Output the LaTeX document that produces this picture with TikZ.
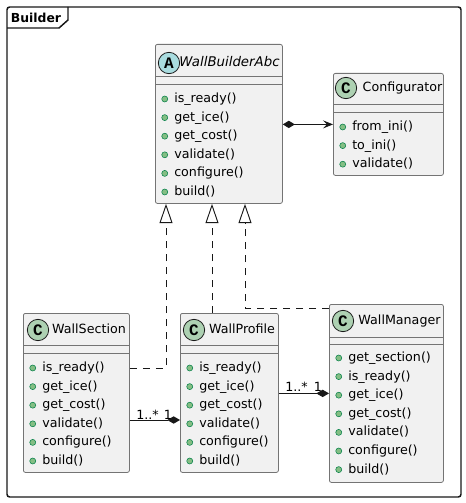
\documentclass[tikz,border=0pt]{standalone}
\usepackage{fontspec}
\setmainfont{DejaVu Sans}
\newfontfamily\iconfont{Liberation Mono}
\usetikzlibrary{arrows.meta}

\definecolor{boxfill}{HTML}{F1F1F1}
\definecolor{boxline}{HTML}{181818}
\definecolor{classicon}{HTML}{ADD1B2}
\definecolor{abstracticon}{HTML}{A9DCDF}
\definecolor{dotfill}{HTML}{84BE84}
\definecolor{dotline}{HTML}{038048}

\begin{document}
\begin{tikzpicture}[x=0.75pt,y=0.75pt,yscale=-1,xscale=1,
  font=\fontsize{9.5}{11}\selectfont,
  frame/.style={draw=boxline, line width=1.1pt},
  classbox/.style={draw=boxline!60, fill=boxfill, line width=0.6pt, rounded corners=1.5pt, anchor=north west, inner sep=0pt},
  sepline/.style={draw=boxline!60, line width=0.6pt},
  iconC/.style={circle, draw=boxline, fill=classicon, line width=0.6pt, minimum size=16pt, inner sep=0pt, font=\iconfont\bfseries\fontsize{12}{12}\selectfont},
  iconA/.style={iconC, fill=abstracticon},
  classname/.style={inner sep=0pt, text height=7pt, text depth=1.8pt},
  memberdot/.style={circle, draw=dotline, fill=dotfill, line width=0.4pt, minimum size=4.5pt, inner sep=0pt, xshift=-4.5pt},
  member/.style={anchor=west, inner sep=0pt, text height=7pt, text depth=1.8pt, label={[memberdot]left:{}}},
  realize/.style={draw=boxline, line width=0.7pt, dash pattern=on 5.25pt off 4.5pt, -{Triangle[open, length=14.5pt, width=9.75pt]}},
  compose/.style={draw=boxline, line width=0.7pt, -{Diamond[length=9.5pt, width=5.5pt]}},
  mult/.style={anchor=base, inner sep=0pt}]
\useasboundingbox (0,0) rectangle (465,503);

% package frame
\draw [frame, rounded corners=2pt] (7,7) rectangle (461,497);
\draw [frame] (7,28) -- (59,28) -- (68,20) -- (68,7);
\node [inner sep=0pt, font=\bfseries\fontsize{9.3}{11}\selectfont] (pkg) at (36,18) {Builder};

% WallBuilderAbc
\node [classbox, minimum width=95.25pt, minimum height=119.25pt] (abc) at (155,44) {};
\draw [sepline] (155,76) -- (282,76);
\draw [sepline] (155,84) -- (282,84);
\node [iconA] (abcI) at (169,63) {A};
\node [classname, font=\itshape] (abcT) at (229.5,63) {WallBuilderAbc};
\node [member] (abc1) at (174,99) {is\_ready()};
\node [member] (abc2) at (174,117.6) {get\_ice()};
\node [member] (abc3) at (174,136.2) {get\_cost()};
\node [member] (abc4) at (174,154.8) {validate()};
\node [member] (abc5) at (174,173.4) {configure()};
\node [member] (abc6) at (174,192) {build()};

% Configurator
\node [classbox, minimum width=82.5pt, minimum height=76.5pt] (cfg) at (333,73) {};
\draw [sepline] (333,104) -- (443,104);
\draw [sepline] (333,112) -- (443,112);
\node [iconC] (cfgI) at (346,88) {C};
\node [classname] (cfgT) at (402.5,88) {Configurator};
\node [member] (cfg1) at (352,127) {from\_ini()};
\node [member] (cfg2) at (352,145.6) {to\_ini()};
\node [member] (cfg3) at (352,164.2) {validate()};

% WallSection
\node [classbox, minimum width=79.5pt, minimum height=119.25pt] (sec) at (23,313) {};
\draw [sepline] (23,345) -- (129,345);
\draw [sepline] (23,353) -- (129,353);
\node [iconC] (secI) at (38,330) {C};
\node [classname] (secT) at (89,330) {WallSection};
\node [member] (sec1) at (42,368) {is\_ready()};
\node [member] (sec2) at (42,386.6) {get\_ice()};
\node [member] (sec3) at (42,405.2) {get\_cost()};
\node [member] (sec4) at (42,423.8) {validate()};
\node [member] (sec5) at (42,442.4) {configure()};
\node [member] (sec6) at (42,461) {build()};

% WallProfile
\node [classbox, minimum width=73.5pt, minimum height=119.25pt] (prof) at (180,313) {};
\draw [sepline] (180,345) -- (278,345);
\draw [sepline] (180,353) -- (278,353);
\node [iconC] (profI) at (194,330) {C};
\node [classname] (profT) at (242,330) {WallProfile};
\node [member] (prof1) at (199,368) {is\_ready()};
\node [member] (prof2) at (199,386.6) {get\_ice()};
\node [member] (prof3) at (199,405.2) {get\_cost()};
\node [member] (prof4) at (199,423.8) {validate()};
\node [member] (prof5) at (199,442.4) {configure()};
\node [member] (prof6) at (199,461) {build()};

% WallManager
\node [classbox, minimum width=85.5pt, minimum height=133.5pt] (mgr) at (329,304) {};
\draw [sepline] (329,337) -- (443,337);
\draw [sepline] (329,344) -- (443,344);
\node [iconC] (mgrI) at (343,321) {C};
\node [classname] (mgrT) at (399.5,321) {WallManager};
\node [member] (mgr1) at (348,358) {get\_section()};
\node [member] (mgr2) at (348,376.6) {is\_ready()};
\node [member] (mgr3) at (348,395.2) {get\_ice()};
\node [member] (mgr4) at (348,413.8) {get\_cost()};
\node [member] (mgr5) at (348,432.4) {validate()};
\node [member] (mgr6) at (348,451) {configure()};
\node [member] (mgr7) at (348,469.6) {build()};

% realizations
\coordinate (bendS) at (166,368);
\coordinate (bendP) at (212,313);
\coordinate (bendM) at (245,308);
\draw [realize] (sec.east |- bendS) -- (bendS) -- (abc.south -| bendS);
\draw [realize] (prof.north -| bendP) -- (abc.south -| bendP);
\draw [realize] (mgr.west |- bendM) -- (bendM) -- (abc.south -| bendM);

% compositions
\draw [compose, {Diamond[length=9pt, width=5.5pt]}-{Stealth[length=7.5pt, width=6pt, inset=3pt]}] (abc.east |- cfg.west) -- (cfg.west);
\coordinate (linkSP) at (150,420);
\draw [compose] (sec.east |- linkSP) -- (prof.west |- linkSP);
\draw [compose] (prof.east |- mgr.west) -- (mgr.west);

% multiplicities
\node [mult] (mSP1) at (147.5,419) {1..*};
\node [mult] (mSP2) at (168,419) {1};
\node [mult] (mPM1) at (296.5,391) {1..*};
\node [mult] (mPM2) at (318,391) {1};

\end{tikzpicture}
\end{document}
